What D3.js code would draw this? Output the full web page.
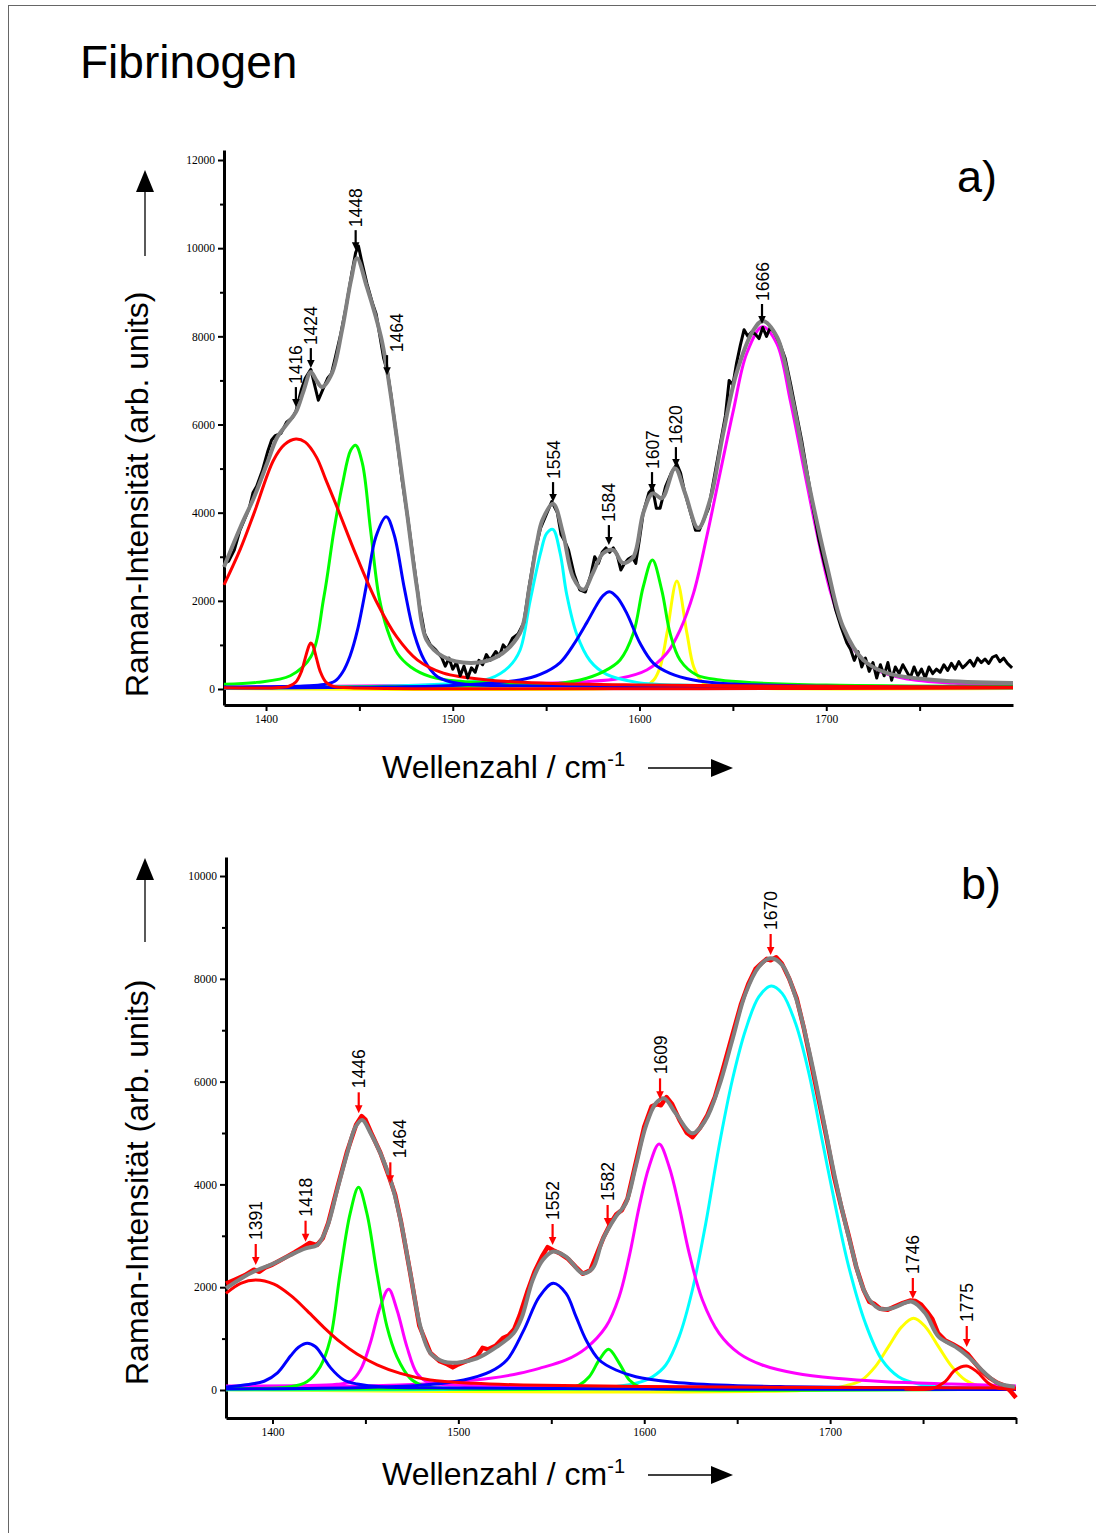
<!DOCTYPE html>
<html><head><meta charset="utf-8">
<script src="https://cdn.jsdelivr.net/npm/d3@7"></script>
<style>body{margin:0;background:#fff}svg{display:block}</style>
</head><body>
<svg id="c" width="1096" height="1533"></svg>
<script>
// ---------------- DATA ----------------
const title = "Fibrinogen";
const yLabel = "Raman-Intensität (arb. units)";
const xLabel = "Wellenzahl / cm";
const xLabelSup = "-1";

const aXTicks = [1400,1450,1500,1550,1600,1650,1700,1750];
const aXTickLabels = ["1400","1500","1600","1700"];
const aYTicks = [0,2000,4000,6000,8000,10000,12000];
const aYMinor = [1000,3000,5000,7000,9000,11000];
const bXTicks = [1400,1450,1500,1550,1600,1650,1700,1750,1800];
const bXTickLabels = ["1400","1500","1600","1700"];
const bYTicks = [0,2000,4000,6000,8000,10000];
const bYMinor = [1000,3000,5000,7000,9000];

// panel a) measured spectrum (black)
const aMeasured = [[1377.5,2850],[1380,2900],[1383,3150],[1386,3600],[1389,3900],[1391,4100],[1393,4450],[1395,4600],[1398,4950],[1401,5400],[1403,5650],[1405,5750],[1408,5800],[1411,6050],[1414,6150],[1416,6300],[1419,6800],[1421,7050],[1424,7250],[1426,6900],[1428,6550],[1430,6750],[1433,7050],[1435,7150],[1437,7500],[1440,8050],[1443,8700],[1446,9450],[1448,9900],[1449.5,10050],[1451,9750],[1454,9200],[1457,8750],[1459,8500],[1461,8000],[1463,7500],[1465,7200],[1467,6650],[1470,5700],[1473,4700],[1476,3850],[1479,2900],[1482,1950],[1485,1250],[1488,1000],[1491,880],[1494,720],[1496,520],[1498,700],[1500,450],[1502,600],[1504,300],[1506,520],[1508,250],[1510,480],[1512,380],[1514,650],[1516,550],[1518,780],[1520,650],[1523,850],[1525,750],[1527,1000],[1529,900],[1532,1150],[1535,1250],[1538,1500],[1541,2350],[1544,3100],[1547,3650],[1550,3950],[1553,4250],[1556,4000],[1558,3500],[1560,3350],[1562,3150],[1565,2600],[1568,2250],[1571,2200],[1574,2600],[1576,3000],[1578,2850],[1580,3100],[1582,3200],[1584,3100],[1586,3200],[1588,3050],[1590,2700],[1592,2850],[1594,2950],[1596,3000],[1598,2850],[1600,3400],[1602,4000],[1605,4450],[1607,4550],[1609,4100],[1611,4100],[1614,4600],[1617,4900],[1620,5100],[1622,4900],[1624,4500],[1626,4200],[1628,3900],[1630,3600],[1632,3600],[1634,3800],[1637,4100],[1640,4800],[1643,5500],[1646,6200],[1648,7000],[1650,6900],[1652,7400],[1654,7800],[1656,8150],[1658,8000],[1660,8100],[1662,8050],[1664,7950],[1666,8200],[1668,8000],[1670,8200],[1672,8100],[1675,7850],[1678,7500],[1681,6900],[1684,6250],[1687,5600],[1690,4850],[1693,4100],[1696,3400],[1699,2850],[1702,2350],[1705,1800],[1708,1400],[1711,1050],[1713,900],[1715,650],[1717,850],[1719,500],[1721,700],[1723,400],[1725,600],[1727,250],[1729,550],[1731,300],[1733,600],[1735,200],[1737,500],[1739,350],[1741,550],[1743,400],[1745,250],[1747,500],[1749,300],[1751,450],[1753,250],[1755,500],[1757,350],[1759,450],[1761,380],[1763,550],[1765,420],[1767,580],[1769,450],[1771,620],[1773,480],[1775,560],[1777,650],[1779,520],[1781,700],[1783,600],[1785,680],[1787,580],[1789,720],[1791,760],[1793,620],[1795,700],[1797,580],[1799.5,480]];
// panel a) fitted sum (gray)
const aFit = [[1377.5,2770],[1386.4,3680],[1393.6,4350],[1400.6,5120],[1406,5710],[1411.4,6020],[1416,6280],[1420,6750],[1424,7190],[1427,7000],[1430,6850],[1435.4,7170],[1440.7,8140],[1445.5,9270],[1448.7,9770],[1454,9120],[1461.6,7980],[1464.8,7230],[1470,5710],[1475.5,3990],[1481,2250],[1486,1110],[1495,730],[1510,590],[1523.7,730],[1536,1270],[1541,2300],[1545,3300],[1548,3830],[1553.7,4200],[1559,3540],[1564.4,2540],[1570,2250],[1575,2630],[1580.5,3080],[1586,3150],[1591,2860],[1596.6,2990],[1602,3990],[1607,4440],[1612,4330],[1619,5010],[1624.4,4440],[1631.4,3650],[1637.8,4290],[1644.8,5800],[1652,7170],[1661,8140],[1666,8350],[1673.7,7980],[1682,6550],[1691,4580],[1700.5,2770],[1709,1410],[1719.8,660],[1732.6,360],[1759.4,200],[1800,136]];
// panel a) fitted components
const aRed1416 = [[1377.5,2360],[1386.4,3190],[1393.6,3990],[1404,5190],[1410,5550],[1416,5670],[1421,5600],[1427,5260],[1432,4750],[1438,4130],[1448.7,2990],[1459.5,1950],[1470,1180],[1481,660],[1495,360],[1520.5,200],[1550,130],[1600,90],[1700,60],[1800,40]];
const aRed1424 = [[1377.5,30],[1405,30],[1412,60],[1416,160],[1419,400],[1421,700],[1423,980],[1424,1043],[1425,1000],[1427,700],[1429,400],[1432,160],[1436,60],[1445,30],[1800,30]];
const aGreen1448 = [[1377.5,110],[1395,150],[1413,300],[1424,730],[1431,2090],[1436.4,3600],[1441,4660],[1445.4,5420],[1448,5530],[1451.6,5120],[1456,3600],[1460.5,2090],[1465,1340],[1470.3,810],[1477.5,500],[1488,280],[1502,180],[1550,110],[1600,80],[1700,60],[1800,50]];
const aBlue1464 = [[1377.5,45],[1420,70],[1431,100],[1437,180],[1441,380],[1445,750],[1449,1340],[1454.3,2470],[1458.8,3450],[1464.4,3910],[1468.6,3500],[1474,2300],[1479.3,1260],[1484.7,660],[1491.8,280],[1502.5,130],[1550,70],[1650,40],[1800,30]];
const aCyan1554 = [[1377.5,20],[1450,50],[1490,100],[1502,130],[1520,240],[1530,500],[1536,880],[1541.4,2000],[1547,3080],[1550.3,3530],[1553.6,3620],[1557.5,3080],[1561,2150],[1566.4,1240],[1573.5,640],[1582.4,330],[1598.5,150],[1630,80],[1700,40],[1800,30]];
const aBlue1584 = [[1377.5,20],[1450,40],[1500,80],[1536,204],[1546.8,330],[1557.5,600],[1564.6,1000],[1571.7,1500],[1577,1900],[1580.5,2120],[1583.9,2207],[1588,2080],[1593.2,1716],[1600.3,1036],[1607.5,582],[1616.4,355],[1628.9,204],[1643,130],[1700,60],[1800,40]];
const aGreen1607 = [[1377.5,30],[1500,60],[1550,100],[1568.2,204],[1580.7,393],[1589.6,658],[1596.7,1262],[1602,2320],[1606.9,2925],[1611.9,2245],[1616.4,1262],[1621.7,658],[1630.6,318],[1643,204],[1661,143],[1700,90],[1800,60]];
const aYellow1620 = [[1377.5,10],[1590,15],[1603,60],[1607.6,204],[1611.1,506],[1614.7,1262],[1620,2449],[1625.4,1262],[1629,506],[1633.4,166],[1640,50],[1660,15],[1800,10]];
const aMagenta1666 = [[1377.5,40],[1450,70],[1500,90],[1536,120],[1571.7,166],[1589.6,242],[1603.9,431],[1614.6,809],[1621.7,1338],[1628.9,2169],[1636,3455],[1643.1,4891],[1650.3,6327],[1657.4,7612],[1665.8,8216],[1673.5,7838],[1680.7,6553],[1687.8,5042],[1695,3530],[1702,2245],[1709.3,1338],[1716.4,809],[1727.1,431],[1741.4,242],[1768.2,128],[1800,90]];
// panel a) peak annotations
const aPeakLabels = ["1416","1424","1448","1464","1554","1584","1607","1620","1666"];
const aPeakPos = [1416,1424,1448,1464.8,1553.7,1583.6,1606.7,1619.5,1665.6];
const aPeakTip = [6395,7279,9955,7120,4240,3265,4467,5034,8280];

// panel b) measured spectrum (red)
const bMeasured = [[1375,2070],[1380,2150],[1385,2230],[1390,2340],[1393,2300],[1396,2380],[1400,2440],[1404,2520],[1408,2600],[1412,2680],[1416,2770],[1420,2860],[1424,2820],[1427,2950],[1430,3250],[1435,3950],[1440,4620],[1445,5160],[1448,5330],[1450,5260],[1453,5010],[1458,4620],[1463,4120],[1466,3800],[1469,3300],[1474,2300],[1479,1250],[1485,720],[1490,560],[1494,500],[1497,440],[1500,500],[1505,570],[1510,650],[1513,820],[1516,790],[1520,860],[1524,1010],[1527,1060],[1530,1180],[1533,1450],[1537,1900],[1541,2300],[1545,2600],[1548,2780],[1551,2720],[1555,2650],[1559,2550],[1563,2400],[1567,2260],[1571,2330],[1574,2600],[1578,2960],[1582,3250],[1585,3420],[1588,3500],[1591,3720],[1595,4350],[1600,5120],[1604,5520],[1607,5560],[1609,5540],[1612,5700],[1615,5560],[1619,5250],[1623,5000],[1626,4920],[1630,5100],[1634,5350],[1638,5700],[1642,6200],[1647,6850],[1652,7500],[1656,7900],[1660,8200],[1663,8300],[1666,8390],[1668,8360],[1671,8420],[1674,8300],[1678,8000],[1682,7620],[1686,7020],[1690,6320],[1694,5620],[1698,4920],[1702,4170],[1706,3560],[1710,3000],[1714,2400],[1718,1950],[1721,1720],[1724,1670],[1727,1580],[1731,1560],[1735,1630],[1739,1690],[1743,1740],[1746,1730],[1749,1660],[1752,1530],[1755,1380],[1758,1110],[1762,960],[1766,890],[1770,810],[1774,700],[1778,520],[1782,350],[1786,230],[1790,140],[1794,80],[1797,-20],[1800,-150]];
// panel b) fitted sum (gray)
const bFit = [[1375,1980],[1384.7,2205],[1391.9,2335],[1400.8,2464],[1409.8,2627],[1417.8,2756],[1424.1,2821],[1429.5,3178],[1434.8,3891],[1440.2,4604],[1444.7,5123],[1448.3,5253],[1452.8,4994],[1458.1,4604],[1463.5,4086],[1468.9,3307],[1474.2,2270],[1479.6,1232],[1485,713],[1492.1,551],[1499.3,532],[1510,616],[1520.8,843],[1529.7,1103],[1534,1400],[1540,2140],[1545.4,2529],[1550.7,2691],[1557.9,2594],[1566.8,2270],[1572.2,2367],[1577.6,2918],[1584.7,3372],[1590.1,3632],[1595.4,4345],[1600.8,5123],[1606.2,5577],[1610.7,5674],[1616.9,5383],[1625.9,4994],[1633,5253],[1640.2,5901],[1647.4,6809],[1654.5,7717],[1661.7,8236],[1668,8398],[1674.2,8268],[1681.4,7652],[1688.6,6614],[1695.7,5383],[1702.9,4086],[1710,2983],[1719,1880],[1726.1,1589],[1733.3,1589],[1744,1718],[1751.2,1492],[1758.3,1038],[1767.3,843],[1774.4,648],[1783.4,324],[1790.5,130],[1799.4,65]];
// panel b) fitted components
const bRed1391 = [[1375,1880],[1382.9,2075],[1391,2140],[1400.8,2060],[1409.8,1840],[1418.7,1540],[1427.6,1220],[1436.6,930],[1445.5,700],[1456.3,490],[1468.8,324],[1484.9,195],[1508.2,130],[1535,97],[1600,70],[1700,50],[1800,40]];
const bBlue1418 = [[1375,60],[1384.7,97],[1395.5,170],[1402.7,333],[1409.8,666],[1414,832],[1418.7,908],[1423,845],[1427,660],[1431.3,430],[1438.4,195],[1445.5,117],[1460,60],[1500,40],[1600,20],[1800,10]];
const bGreen1446 = [[1375,30],[1409.5,65],[1418.5,162],[1425.7,454],[1431,973],[1436.4,2270],[1441.8,3437],[1446.3,3943],[1450.8,3437],[1456.2,2270],[1461.6,1232],[1466.9,649],[1474.1,227],[1481.3,78],[1490,32],[1600,25],[1800,20]];
const bMagenta1464 = [[1375,80],[1434.7,110],[1441.9,162],[1447.3,389],[1452.6,908],[1458,1621],[1462.5,1958],[1467,1557],[1472.3,843],[1477.7,324],[1483,162],[1490.2,110],[1520,80],[1600,60],[1800,40]];
const bBlue1552 = [[1375,20],[1450,50],[1481.4,97],[1502.9,195],[1517.2,357],[1526.1,584],[1535,1150],[1543.6,1816],[1551.1,2075],[1557.9,1880],[1563.3,1427],[1568.7,973],[1575.8,584],[1584.8,389],[1595.5,259],[1613.4,162],[1640.3,97],[1676,65],[1800,30]];
const bGreen1582 = [[1375,20],[1550,30],[1560,40],[1565,97],[1570.4,259],[1575.8,584],[1580.8,791],[1586.6,519],[1592,195],[1597.3,65],[1605,25],[1800,20]];
const bMagenta1609 = [[1375,50],[1450,80],[1481.4,117],[1499.3,162],[1517.2,227],[1533,324],[1543.6,421],[1557.9,584],[1568.6,811],[1579.4,1232],[1586.5,1816],[1591.9,2594],[1597.3,3567],[1602.6,4345],[1608,4786],[1613.4,4345],[1618.8,3567],[1624.2,2659],[1631.3,1751],[1640.3,1103],[1651,713],[1663.5,486],[1681.4,324],[1702.9,227],[1729.7,162],[1765.5,117],[1800,80]];
const bCyan1670 = [[1375,5],[1550,20],[1580,50],[1595.5,130],[1604.5,259],[1611.6,486],[1618.8,1038],[1625.9,1945],[1633.1,3242],[1640.2,4734],[1647.4,6031],[1654.5,7004],[1661.7,7652],[1668.3,7860],[1674.2,7717],[1681.4,7133],[1688.6,6161],[1695.7,4864],[1702.9,3567],[1710,2400],[1719,1297],[1727.9,584],[1736.8,259],[1747.6,117],[1765,50],[1800,30]];
const bYellow1746 = [[1375,5],[1700,20],[1710,97],[1717.1,195],[1724.3,454],[1731.4,843],[1738.6,1232],[1744.9,1394],[1751.2,1232],[1758.3,843],[1765.5,454],[1772.7,195],[1779.8,78],[1800,20]];
const bRed1775 = [[1740,20],[1755,30],[1761.9,162],[1767.3,389],[1773.5,467],[1778.9,357],[1785.2,130],[1790,40],[1800,20]];
// panel b) peak annotations
const bPeakLabels = ["1391","1418","1446","1464","1552","1582","1609","1670","1746","1775"];
const bPeakPos = [1391,1417.8,1446.4,1463.4,1550.7,1580.3,1608.5,1668,1744.5,1773.5];
const bPeakTip = [2432,2885,5383,4021,2821,3191,5655,8463,1770,837];

// ---------------- DRAWING ----------------
const svg = d3.select("#c");
const SANS = "'Liberation Sans', Arial, sans-serif";
const SERIF = "'Liberation Serif', 'Times New Roman', serif";

// frame
svg.append("rect").attr("x",8.5).attr("y",5.5).attr("width",1200).attr("height",1600)
  .attr("fill","none").attr("stroke","#666").attr("stroke-width",1);

svg.append("text").attr("x",80).attr("y",78).attr("font-family",SANS).attr("font-size",46).text(title);

function panel(o){
  const x = d3.scaleLinear().domain(o.xDomain).range(o.xRange);
  const y = d3.scaleLinear().domain(o.yDomain).range(o.yRange);
  const g = svg.append("g");
  const smooth = d3.line().x(d=>x(d[0])).y(d=>y(d[1])).curve(d3.curveCatmullRom.alpha(0.5));
  const raw = d3.line().x(d=>x(d[0])).y(d=>y(d[1])).curve(d3.curveLinear);

  // axes
  const ya = d3.axisLeft(y).tickValues(o.yTicks).tickFormat(d=>String(d)).tickSize(6).tickPadding(3).tickSizeOuter(0);
  const yg = g.append("g").attr("transform",`translate(${o.xRange[0]},0)`).call(ya);
  const yMinor = g.append("g").attr("transform",`translate(${o.xRange[0]},0)`)
    .call(d3.axisLeft(y).tickValues(o.yMinor).tickFormat("").tickSize(4).tickSizeOuter(0));
  yMinor.select(".domain").remove();
  const xa = d3.axisBottom(x).tickValues(o.xTicks).tickFormat(d=>o.xTickLabels.includes(String(d))?String(d):"").tickSize(6).tickPadding(4).tickSizeOuter(0);
  const xg = g.append("g").attr("transform",`translate(0,${o.yRange[0]})`).call(xa);
  [yg,xg,yMinor].forEach(a=>{
    a.selectAll(".domain").attr("stroke","#000").attr("stroke-width",3);
    a.selectAll(".tick line").attr("stroke","#000").attr("stroke-width",2);
    a.selectAll("text").attr("font-family",SERIF).attr("font-size",11.5).attr("fill","#000");
  });

  // components
  o.comps.forEach(c=>{
    g.append("path").datum(c.data).attr("d",smooth).attr("fill","none")
      .attr("stroke",c.color).attr("stroke-width",3).attr("stroke-linejoin","round");
  });
  // measured
  g.append("path").datum(o.measured).attr("d",raw).attr("fill","none")
    .attr("stroke",o.measColor).attr("stroke-width",o.measWidth).attr("stroke-linejoin","round");
  // fit
  g.append("path").datum(o.fit).attr("d",smooth).attr("fill","none")
    .attr("stroke","#808080").attr("stroke-width",4).attr("stroke-linejoin","round");

  // peak annotations
  o.labels.forEach((lab,i)=>{
    const px = x(o.pos[i]), tip = y(o.tip[i]);
    const top = tip - o.arrowLen;
    g.append("line").attr("x1",px).attr("x2",px).attr("y1",top).attr("y2",tip-6)
      .attr("stroke",o.annColor).attr("stroke-width",2.2);
    g.append("path").attr("d",`M${px-3.8},${tip-8} L${px+3.8},${tip-8} L${px},${tip} Z`).attr("fill",o.annColor);
    const dx = lab==="1464" ? 9 : 0;
    g.append("text").attr("transform",`translate(${px+6.5+dx},${top-o.gap}) rotate(-90)`)
      .attr("font-family",SANS).attr("font-size",17.5).text(lab);
  });

  // y label + arrow
  const ax = 145;
  g.append("text").attr("transform",`translate(${ax+3},${o.yLabelStart}) rotate(-90)`)
    .attr("font-family",SANS).attr("font-size",32).text(yLabel);
  g.append("line").attr("x1",ax).attr("x2",ax).attr("y1",o.yArrowLine[0]).attr("y2",o.yArrowLine[1]).attr("stroke","#000").attr("stroke-width",1.3);
  g.append("path").attr("d",`M${ax},${o.yArrowTip} L${ax-9},${o.yArrowTip+22} L${ax+9},${o.yArrowTip+22} Z`).attr("fill","#000");

  // x label + arrow
  const t = g.append("text").attr("x",382).attr("y",o.xLabelBase).attr("font-family",SANS).attr("font-size",32);
  t.append("tspan").text(xLabel);
  t.append("tspan").attr("dy",-12).attr("font-size",20).text(xLabelSup);
  const ay = o.xLabelBase - 10;
  g.append("line").attr("x1",648).attr("x2",714).attr("y1",ay).attr("y2",ay).attr("stroke","#000").attr("stroke-width",1.3);
  g.append("path").attr("d",`M733,${ay} L711,${ay-9} L711,${ay+9} Z`).attr("fill","#000");

  // panel tag
  g.append("text").attr("x",o.tagX).attr("y",o.tagY).attr("font-family",SANS).attr("font-size",45).text(o.tag);
}

panel({
  xDomain:[1377.5,1800], xRange:[224,1013], yDomain:[-363,12227], yRange:[705,150],
  xTicks:aXTicks, xTickLabels:aXTickLabels, yTicks:aYTicks, yMinor:aYMinor,
  measured:aMeasured, measColor:"#000", measWidth:3, fit:aFit,
  comps:[
    {data:aYellow1620,color:"#ffff00"},{data:aMagenta1666,color:"#ff00ff"},
    {data:aCyan1554,color:"#00ffff"},{data:aGreen1448,color:"#00ff00"},{data:aGreen1607,color:"#00ff00"},
    {data:aBlue1464,color:"#0000ff"},{data:aBlue1584,color:"#0000ff"},
    {data:aRed1424,color:"#ff0000"},{data:aRed1416,color:"#ff0000"}
  ],
  labels:aPeakLabels, pos:aPeakPos, tip:aPeakTip, annColor:"#000", arrowLen:20, gap:3,
  yLabelStart:697, yArrowLine:[256,190], yArrowTip:170, xLabelBase:778,
  tag:"a)", tagX:957, tagY:192
});

panel({
  xDomain:[1375,1800], xRange:[226,1016], yDomain:[-545,10370], yRange:[1418,857],
  xTicks:bXTicks, xTickLabels:bXTickLabels, yTicks:bYTicks, yMinor:bYMinor,
  measured:bMeasured, measColor:"#ff0000", measWidth:4.5, fit:bFit,
  comps:[
    {data:bYellow1746,color:"#ffff00"},{data:bCyan1670,color:"#00ffff"},
    {data:bMagenta1609,color:"#ff00ff"},{data:bMagenta1464,color:"#ff00ff"},
    {data:bGreen1446,color:"#00ff00"},{data:bGreen1582,color:"#00ff00"},
    {data:bBlue1418,color:"#0000ff"},{data:bBlue1552,color:"#0000ff"},
    {data:bRed1775,color:"#ff0000"},{data:bRed1391,color:"#ff0000"}
  ],
  labels:bPeakLabels, pos:bPeakPos, tip:bPeakTip, annColor:"#ff0000", arrowLen:21, gap:4,
  yLabelStart:1385, yArrowLine:[942,880], yArrowTip:858, xLabelBase:1485,
  tag:"b)", tagX:961, tagY:899
});
</script></body></html>
